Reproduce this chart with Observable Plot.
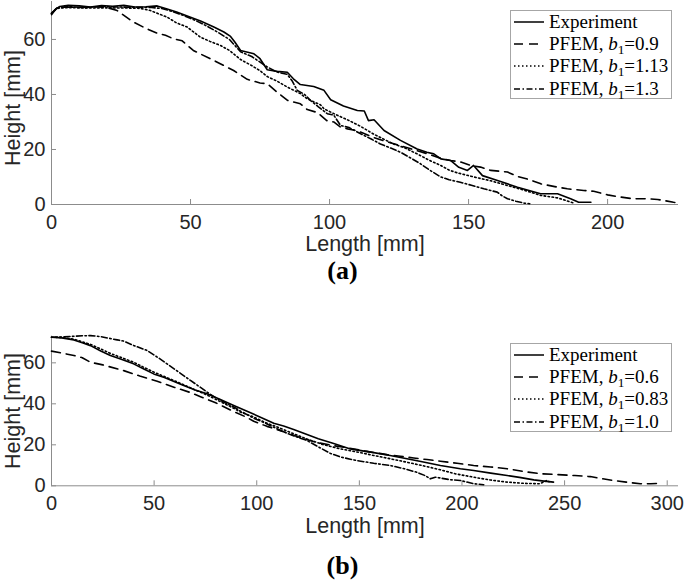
<!DOCTYPE html>
<html><head><meta charset="utf-8">
<script src="https://cdn.jsdelivr.net/npm/d3@7"></script>
<script src="https://cdn.jsdelivr.net/npm/@observablehq/plot@0.6"></script>
<style>
body{margin:0;background:#fff;}
#root{position:relative;width:685px;height:585px;overflow:hidden;background:#fff;}
.panel{position:absolute;left:0;}
.legend{position:absolute;background:#fff;border:1px solid #a6a6a6;font-family:"Liberation Serif","Times New Roman",serif;font-size:19px;color:#000;box-sizing:border-box;}
.row{position:absolute;left:2px;height:22px;display:flex;align-items:center;white-space:nowrap;}
.row svg{margin-right:4px;}
.sub{font-size:0.7em;position:relative;top:0.3em;font-style:normal;}
.caption{position:absolute;left:0;width:685px;text-align:center;font-family:"Liberation Serif","Times New Roman",serif;font-weight:bold;font-size:26px;line-height:24px;color:#000;}
</style>
</head><body>
<div id="root"></div>
<script>
// ---------- Panel (a) data ----------
const expA_x = [0,1.5,3,6,10,14,18,22,26,30,34,38,41.6,45,50,53.6,58.4,62,64.4,66,68,72.8,75,77.6,81.2,84.8,87,89.5,94.3,98,100.4,105,110,112.5,114,116,119.6,125.5,131.5,135,137.5,140,143.5,146.5,149.6,151.8,155,160.4,167.6,175.9,182,186.7,189.6,194];
const expA_y = [69,71,72,72.4,72.2,71.8,72.3,72.1,72.4,71.8,71.9,72.2,71.1,70,68.1,66.7,64.5,62.7,61.1,59,56,54.8,53,49,48.4,48.1,45.7,43.6,42.9,41.5,38.1,35.8,34.2,34,30.5,30.8,26.9,23.3,20.2,19,18.4,16.6,16,13.5,12.4,14.2,10.5,8.7,6.3,3.9,3.9,2.1,0.8,0.8];
const b09_x = [0,2,5,10,15,20,23.6,29.5,34,38,41,44,47,51,58.3,65.5,70.4,75,77.6,81.2,85,89.5,92,95.7,99,101.5,104,106.5,110,116,120,125,130,135,140,143.5,147,150.7,154.3,158,164,167.6,172,176,181,185.5,191.4,195,200,204.7,209,214.3,218,220,223.7,226];
const b09_y = [69.5,71.5,71.8,71.6,71.9,71.6,70.5,66.3,64,62.3,61.5,60.2,59.5,56,52.4,48.7,45.5,44.2,43.9,40.8,37.8,36.6,34.5,33.4,30.5,30,28.1,27.5,26.8,24.3,23,21.5,20,18.5,16.8,16,15.5,14.2,13.6,12.4,11.8,10.2,9,7.5,6.5,5.7,5.1,4.8,3.5,2.7,2.1,2.1,1.8,1.5,0.8,0.5];
const b113_x = [0,2,6,12,20,28,32,35.6,41.6,45,48.8,53.6,57,60.8,64,68,72,75.2,77.6,81.2,84.8,89.5,92,96.8,98,102,106.4,111,116,123,127,131.5,136,140,143,146,152,158,164,170,176,182,186.7,188];
const b113_y = [69.5,71.3,71.6,71.4,71.5,71.4,71.3,70.5,68.1,66,64.5,60.8,59.3,57.8,56,52.7,50.5,48.5,46.5,44.8,42.7,40.3,38.4,36.2,34.8,32.8,30.8,28.5,25.5,22,20.6,18.4,16,14.2,12.5,11.5,10,8.6,6.9,5.2,3.3,2.4,0.9,0.5];
const b13_x = [0,2,6,12,18,24,30,36,40,44,48,52,56,60,64,68,72,77.6,81,84.8,86.5,88.4,91,93.2,96,99.2,101.5,104,107,111.2,115,118.3,122,125.5,129,132.7,136,140,143,147,151,155.5,160.3,162,164,167,170,172];
const b13_y = [69.5,71.5,71.9,71.6,72,71.8,71.7,71.6,71.2,70,68.5,66.8,64.8,62.5,60,55.5,53.8,50,48.2,47.3,45,41.5,40,37.8,35.5,33,32.5,28.7,28,25.7,23.8,22,20.5,19,17,14.8,12.5,10,9,8.1,7,5.7,4.5,3.2,2.1,1.2,0.5,0.3];

// ---------- Panel (b) data ----------
const expB_x = [0,5,10.9,15,19,24,28.7,34,40,45,49.8,55,60,64.4,70,75.8,82,88.8,95,101.8,108.3,113.1,118,124.5,130,137.5,145.6,150,157,165,173.2,180,189.5,199.2,205.7,214,222,228,235,240,244.6];
const expB_y = [72.5,72.2,71.2,69.8,68.4,65.8,63.6,61.8,59.5,57,54.6,52.8,50.8,48.9,46.8,44.9,42.2,39.2,36.5,33.5,30.5,29.2,27.5,25,23,20.6,18,17.3,16.2,14.8,13.2,11.9,9.9,8.3,7.5,6.2,5,4.1,2.9,2.3,1.8];
const b06_x = [0,5,10.9,15,19,25,35.2,43,51.5,60,67.7,72.6,80,88.8,95,98.5,105,113,121.3,130,137.5,145,153.7,163.5,170,176.5,183,189.5,197.6,205.7,214,222,230,238,246.3,255,262.5,268,273.9,280,286.9,292,296.6];
const b06_y = [65.7,64.8,63.6,62.5,60.3,59,56.2,53.6,51,48,45.5,43.5,40.5,36.2,33.5,31.5,29,26.4,23.5,21,19.6,18.4,16.8,15.2,14.4,13.6,12.8,12,11,9.9,9.2,8.3,7,5.9,5.5,5,4.5,3.5,2.6,1.8,1,1,1.2];
const b083_x = [0,5,10.9,15,19,24,28.7,34,40,45,49.8,55,60,64.4,70,75.8,82,88.8,92,98,105,110,116,124.5,132,140.8,150,157,165,173.2,181,189.5,197,205.7,214,222,230,238,241.4,242.5];
const b083_y = [72.5,72.4,71.5,70.3,69,66.8,64.6,62.6,60.3,57.8,55.5,53.3,51.2,49.3,46.8,44.3,41.2,37.8,36,33.8,30.5,28.7,26.2,22.8,20.2,18,16.3,14.8,13.2,11.5,9.8,7.8,5.8,4.2,2.8,1.8,1.2,1,2.6,2];
const b10_x = [0,5,10,15,19,23.9,28,32,35.2,40,46.6,52,56.3,62,67.7,72.6,75.8,80,85.5,88.8,92,98.5,105,108.3,115,121.3,124.5,130,135.9,141,145.6,148.9,157,165.1,172,178,182,184.6,187,189.5,194,199.2,205.7,210.6];
const b10_y = [72.5,72.6,72.9,73.2,73.3,72.8,72,71.2,70.6,68.5,66,62.5,59.5,55.5,51.4,48,45.7,43,40,38.5,36.5,33,30.2,28.6,25.5,23.2,22.1,19,15.8,14,13,12.3,11,9.9,8.3,6.6,5,3.4,4.2,3.8,3,2.6,1,0.5];

// ---------- axes / labels ----------
const xTicksA = [0,50,100,150,200];
const xTicksB = [0,50,100,150,200,250,300];
const yTicks = [0,20,40,60];
const xLabel = "Length [mm]";
const yLabel = "Height [mm]";
const namesA = ["Experiment","PFEM","PFEM","PFEM"];
const b1A = [null,"0.9","1.13","1.3"];
const b1B = [null,"0.6","0.83","1.0"];
const dashes = ["none","9,6","1.5,2.5","6,2.5,1.5,2.5"];

const gray = "#8c8c8c";
function toRows(xs, ys){ return xs.map((x,i)=>({x, y: ys[i]})); }

function panel({series, xDomain, yDomain, xTicks, height, marginTop, marginBottom, yLabelDy}) {
  const mL = 51, mR = 7, W = 685;
  const frameH = height - marginTop - marginBottom;
  const frameW = W - mL - mR;
  return Plot.plot({
    width: W, height, marginLeft: mL, marginRight: mR, marginTop, marginBottom,
    x: {domain: xDomain}, y: {domain: yDomain},
    style: {fontFamily: "'Liberation Sans', Arial, sans-serif", color: "#262626", background: "transparent", overflow: "visible"},
    marks: [
      Plot.axisX(xTicks, {tickSize: 0, tickPadding: 10, fontSize: 20, label: null}),
      Plot.axisY(yTicks, {tickSize: 0, tickPadding: 6, fontSize: 20, label: null}),
      Plot.ruleX(xTicks, {insetTop: frameH - 5, stroke: gray}),
      Plot.ruleY(yTicks, {insetRight: frameW - 5, stroke: gray}),
      Plot.ruleX([0], {stroke: gray}),
      Plot.ruleY([0], {stroke: gray}),
      ...series.map((s, i) => Plot.line(toRows(s[0], s[1]), {x: "x", y: "y", stroke: "black", strokeWidth: 1.6, strokeDasharray: dashes[i] === "none" ? null : dashes[i]})),
      Plot.text([xLabel], {text: d => d, frameAnchor: "bottom", textAnchor: "middle", lineAnchor: "middle", dy: 40, fontSize: 21.5}),
      Plot.text([yLabel], {text: d => d, frameAnchor: "left", textAnchor: "middle", lineAnchor: "middle", dx: -38, dy: yLabelDy, rotate: -90, fontSize: 21.5})
    ]
  });
}

const root = document.getElementById("root");

const svgA = panel({
  series: [[expA_x, expA_y],[b09_x, b09_y],[b113_x, b113_y],[b13_x, b13_y]],
  xDomain: [0, 225.5], yDomain: [0, 73.8], xTicks: xTicksA,
  height: 290, marginTop: 1, marginBottom: 86, yLabelDy: 5
});
svgA.classList.add("panel"); svgA.style.top = "0px";
root.appendChild(svgA);

const svgB = panel({
  series: [[expB_x, expB_y],[b06_x, b06_y],[b083_x, b083_y],[b10_x, b10_y]],
  xDomain: [0, 305.5], yDomain: [0, 73], xTicks: xTicksB,
  height: 295, marginTop: 45.7, marginBottom: 99.7, yLabelDy: 0
});
svgB.classList.add("panel"); svgB.style.top = "290px";
root.appendChild(svgB);

function legend(left, top, b1s) {
  const box = document.createElement("div");
  box.className = "legend";
  Object.assign(box.style, {left: left + "px", top: top + "px", width: "162px", height: "89px"});
  namesA.forEach((name, i) => {
    const row = document.createElement("div");
    row.className = "row";
    row.style.top = (i * 22.2) + "px";
    const dash = dashes[i] === "none" ? "" : `stroke-dasharray="${dashes[i]}"`;
    const label = b1s[i] == null ? name : `${name}, <i>b</i><span class="sub">1</span>=${b1s[i]}`;
    row.innerHTML = `<svg width="32" height="8"><line x1="1" x2="31" y1="4" y2="4" stroke="black" stroke-width="1.5" ${dash}/></svg><span>${label}</span>`;
    box.appendChild(row);
  });
  root.appendChild(box);
}
legend(510, 10, b1A);
legend(510, 343, b1B);

function caption(text, top) {
  const c = document.createElement("div");
  c.className = "caption"; c.style.top = top + "px"; c.textContent = text;
  root.appendChild(c);
}
caption("(a)", 259);
caption("(b)", 554);
</script>
</body></html>
